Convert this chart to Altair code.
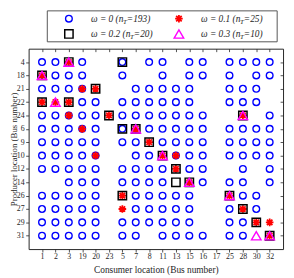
import altair as alt
import pandas as pd

# Categories (bus numbers)
consumers = [1, 2, 3, 19, 20, 23, 5, 7, 8, 11, 13, 15, 16, 17, 25, 28, 30, 32]
producers = [4, 18, 21, 22, 24, 6, 9, 10, 12, 14, 26, 27, 29, 31]

# omega = 0 (circles): producer -> consumers
w0 = {
    4: [1, 2, 19, 5, 8, 11, 15, 16, 25, 28, 30, 32],
    18: [2, 3, 19, 5, 11, 15, 16, 25, 30, 32],
    21: [1, 2, 3, 19, 7, 8, 11, 13, 15, 25, 28, 30],
    22: [19, 20, 5, 7, 8, 11, 13, 15, 25, 28, 30],
    24: [1, 2, 3, 19, 20, 5, 7, 8, 11, 13, 15, 16, 32],
    6: [1, 2, 3, 19, 20, 5, 8, 11, 13, 15, 16, 25, 28, 30, 32],
    9: [1, 2, 3, 19, 20, 5, 7, 11, 13, 15, 16, 25, 28, 30, 32],
    10: [1, 2, 3, 19, 20, 7, 8, 13, 15, 16, 25, 28, 30, 32],
    12: [1, 2, 3, 19, 20, 5, 7, 8, 11, 15, 16, 28, 32],
    14: [3, 19, 20, 5, 7, 8, 11, 16, 25, 28, 32],
    26: [1, 2, 3, 19, 20, 7, 8, 11, 13, 15, 28, 30],
    27: [1, 2, 3, 19, 20, 7, 8, 11, 13, 15, 25, 30],
    29: [1, 2, 3, 19, 20, 5, 7, 8, 11, 13, 15, 25, 28],
    31: [1, 2, 3, 19, 20, 5, 7, 11, 13, 15, 16, 25, 28],
}
# omega = 0.1 (asterisks)
w1 = {4: [3], 18: [1], 21: [19, 20], 22: [1, 2, 3], 24: [3, 23, 28], 6: [19, 7],
      9: [8], 10: [20, 11, 13], 12: [13], 14: [15], 26: [5, 25], 27: [5, 28],
      29: [30, 32], 31: [32]}
# omega = 0.2 (squares)
w2 = {4: [3, 5], 18: [1], 21: [20], 22: [1, 3], 24: [23, 28], 6: [5, 7], 9: [8],
      10: [11], 12: [13], 14: [13, 15], 26: [5, 25], 27: [28], 29: [30], 31: [32]}
# omega = 0.3 (triangles)
w3 = {4: [3], 18: [1], 22: [2], 24: [28], 6: [7], 10: [11], 14: [15], 26: [25],
      31: [30, 32]}

omegas = ["0", "0.1", "0.2", "0.3"]
counts = [193, 25, 20, 10]

recs = []
for om, d in zip(omegas, [w0, w1, w2, w3]):
    for p, cs in d.items():
        for c in cs:
            recs.append({"producer": p, "consumer": c, "omega": om})
df = pd.DataFrame(recs)

ASTER = "M-1,0L1,0M0,-1L0,1M-0.72,-0.72L0.72,0.72M-0.72,0.72L0.72,-0.72"
styles = {
    "0": dict(shape="circle", stroke="#0000ff", size=46, strokeWidth=1.4),
    "0.1": dict(shape=ASTER, stroke="#ff0000", size=60, strokeWidth=1.8),
    "0.2": dict(shape="square", stroke="#000000", size=72, strokeWidth=1.5),
    "0.3": dict(shape="triangle-up", stroke="#ff00ff", size=95, strokeWidth=1.4),
}

FONT = "Liberation Serif"
TXT = "#262626"

xenc = alt.X("consumer:O", scale=alt.Scale(type="point", domain=consumers, padding=1),
             axis=alt.Axis(orient="bottom", title="Consumer location (Bus number)",
                           labelAngle=0, tickSize=3, labelPadding=1, titlePadding=4,
                           domain=False, grid=False))
yenc = alt.Y("producer:O", scale=alt.Scale(type="point", domain=producers, padding=1),
             axis=alt.Axis(orient="left", title="Producer location (Bus number)",
                           tickSize=3, labelPadding=1.5, titlePadding=-2.5,
                           titleFontSize=9, domain=False, grid=False))

layers = []
for i, om in enumerate(omegas):
    st = styles[om]
    x_ch = xenc
    y_ch = yenc
    if i == 1:
        x_ch = alt.X("consumer:O", axis=alt.Axis(orient="top", labels=False, title=None,
                                                   tickSize=3, offset=-3, domain=False, grid=False))
        y_ch = alt.Y("producer:O", axis=alt.Axis(orient="right", labels=False, title=None,
                                                   tickSize=3, offset=-3, domain=False, grid=False))
    elif i > 1:
        x_ch = alt.X("consumer:O", axis=None)
        y_ch = alt.Y("producer:O", axis=None)
    layers.append(
        alt.Chart(df).transform_filter(alt.datum.omega == om)
        .mark_point(filled=False, opacity=1, **st)
        .encode(x=x_ch, y=y_ch)
    )

# Legend (drawn by hand so the subscript T can be set)
one = pd.DataFrame({"k": [0]})
leg = [alt.Chart(one).mark_rect(fill="white", stroke="#555555", strokeWidth=1).encode(
    x=alt.value(19), x2=alt.value(253), y=alt.value(-38.5), y2=alt.value(-7))]

pos = {"0": (41, -30.5), "0.1": (153, -30.5), "0.2": (41, -15), "0.3": (153, -15)}
for om, n in zip(omegas, counts):
    sx, sy = pos[om]
    st = styles[om]
    leg.append(alt.Chart(one).mark_point(filled=False, opacity=1, **st).encode(
        x=alt.value(sx), y=alt.value(sy)))
    tx = sx + 22.5
    a = f"ω = {om} (n"
    wa = 32.6 if om == "0" else 39.7
    common = dict(align="left", baseline="middle", font=FONT, fontStyle="italic", color=TXT)
    leg.append(alt.Chart(one).mark_text(text=a, fontSize=9.5, **common).encode(
        x=alt.value(tx), y=alt.value(sy)))
    leg.append(alt.Chart(one).mark_text(text="T", fontSize=7, **common).encode(
        x=alt.value(tx + wa), y=alt.value(sy + 3)))
    leg.append(alt.Chart(one).mark_text(text=f"={n})", fontSize=9.5, **common).encode(
        x=alt.value(tx + wa + 3.9), y=alt.value(sy)))

chart = alt.layer(*layers, *leg).properties(
    width=259, height=204,
    autosize=alt.AutoSizeParams(type="none"),
    padding={"left": 21, "top": 39, "right": 3, "bottom": 26},
).configure_view(stroke=TXT, strokeWidth=1).configure_axis(
    labelFont=FONT, labelFontSize=8, labelColor=TXT, tickColor=TXT, tickWidth=0.8,
    titleFont=FONT, titleFontSize=9.5, titleFontWeight="normal", titleColor=TXT,
)

chart.save("out.html", embed_options={"renderer": "svg", "actions": False})
